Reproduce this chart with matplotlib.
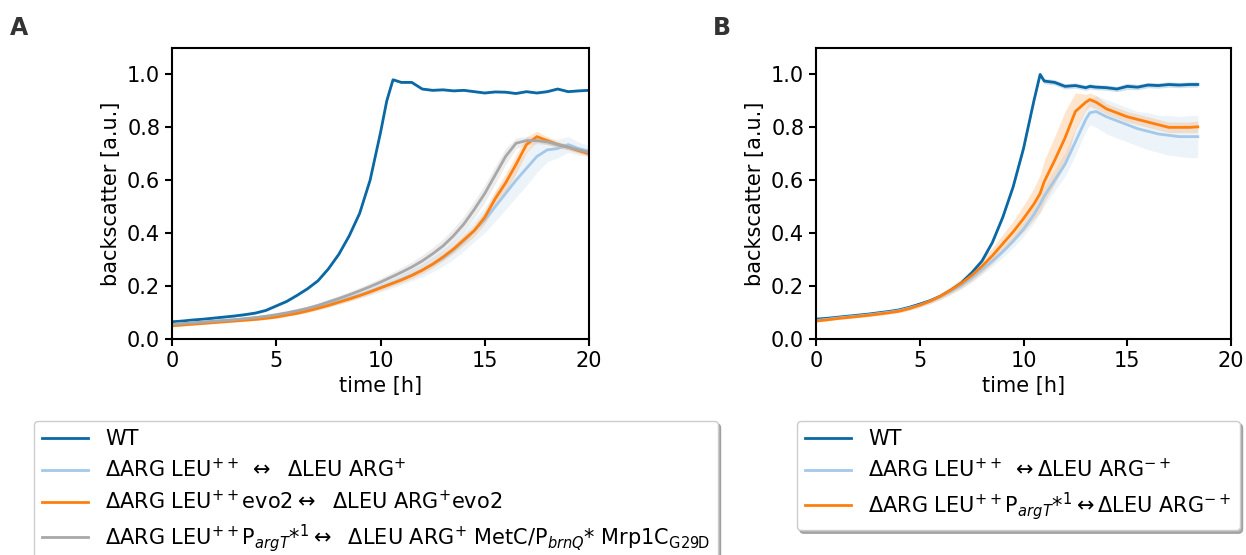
"""growth curves, backscatter, two panels"""

import numpy as np
import matplotlib.pyplot as plt

#%% panel A data
t_a = [0, 0.5, 1, 1.5, 2, 2.5, 3, 3.5, 4, 4.5, 5, 5.5, 6, 6.5, 7, 7.5, 8, 8.5, 9, 9.5,
       10, 10.3, 10.6, 11, 11.5, 12, 12.5, 13, 13.5, 14, 14.5, 15, 15.5, 16, 16.5, 17,
       17.5, 18, 18.5, 19, 19.5, 20]
wt_a = [0.065, 0.068, 0.072, 0.075, 0.079, 0.083, 0.087, 0.092, 0.098, 0.108, 0.125,
        0.142, 0.165, 0.19, 0.22, 0.265, 0.32, 0.39, 0.475, 0.6, 0.78, 0.9, 0.98, 0.97,
        0.97, 0.945, 0.94, 0.942, 0.938, 0.94, 0.935, 0.93, 0.934, 0.933, 0.928, 0.935,
        0.93, 0.935, 0.945, 0.935, 0.938, 0.94]
lb_a = [0.055, 0.058, 0.061, 0.064, 0.067, 0.07, 0.073, 0.076, 0.08, 0.084, 0.088,
        0.094, 0.1, 0.11, 0.12, 0.13, 0.142, 0.154, 0.166, 0.18, 0.195, 0.203, 0.212,
        0.225, 0.242, 0.26, 0.282, 0.305, 0.335, 0.37, 0.41, 0.45, 0.5, 0.55, 0.6, 0.645,
        0.69, 0.715, 0.72, 0.735, 0.72, 0.71]
lb_a_sd = [0.005, 0.005, 0.005, 0.005, 0.005, 0.005, 0.005, 0.005, 0.005, 0.005, 0.006,
           0.006, 0.007, 0.008, 0.009, 0.01, 0.011, 0.012, 0.013, 0.014, 0.016, 0.017,
           0.018, 0.02, 0.022, 0.025, 0.028, 0.03, 0.033, 0.037, 0.042, 0.048, 0.055,
           0.06, 0.065, 0.065, 0.06, 0.045, 0.035, 0.03, 0.025, 0.02]
or_a = [0.05, 0.053, 0.056, 0.059, 0.062, 0.065, 0.068, 0.071, 0.074, 0.078, 0.083,
        0.09, 0.097, 0.106, 0.116, 0.127, 0.139, 0.151, 0.164, 0.178, 0.193, 0.202, 0.211,
        0.223, 0.24, 0.26, 0.283, 0.31, 0.34, 0.375, 0.41, 0.46, 0.53, 0.59, 0.66, 0.735,
        0.765, 0.75, 0.735, 0.725, 0.712, 0.70]
or_a_sd = [0.004, 0.004, 0.004, 0.004, 0.004, 0.004, 0.004, 0.004, 0.004, 0.004, 0.005,
           0.005, 0.005, 0.006, 0.006, 0.007, 0.007, 0.008, 0.008, 0.009, 0.01, 0.01,
           0.01, 0.011, 0.012, 0.013, 0.014, 0.015, 0.017, 0.02, 0.022, 0.025, 0.03,
           0.035, 0.035, 0.03, 0.02, 0.015, 0.012, 0.01, 0.01, 0.01]
gr_a = [0.055, 0.058, 0.061, 0.064, 0.067, 0.07, 0.073, 0.077, 0.081, 0.086, 0.092,
        0.099, 0.107, 0.116, 0.127, 0.14, 0.153, 0.167, 0.182, 0.198, 0.215, 0.226,
        0.237, 0.252, 0.272, 0.295, 0.322, 0.352, 0.39, 0.435, 0.49, 0.55, 0.62, 0.69,
        0.74, 0.75, 0.75, 0.745, 0.735, 0.725, 0.715, 0.705]
gr_a_sd = [0.006, 0.006, 0.006, 0.006, 0.006, 0.006, 0.006, 0.006, 0.006, 0.006, 0.007,
           0.007, 0.008, 0.008, 0.009, 0.01, 0.011, 0.012, 0.013, 0.014, 0.015, 0.016,
           0.017, 0.018, 0.02, 0.022, 0.024, 0.026, 0.028, 0.03, 0.032, 0.033, 0.033,
           0.03, 0.02, 0.015, 0.012, 0.01, 0.01, 0.01, 0.01, 0.01]

#%% panel B data
t_b = [0, 0.5, 1, 1.5, 2, 2.5, 3, 3.5, 4, 4.5, 5, 5.5, 6, 6.5, 7, 7.5, 8, 8.5, 9, 9.5,
       10, 10.5, 10.8, 11, 11.5, 12, 12.5, 13, 13.2, 13.5, 14, 14.5, 15, 15.5, 16, 16.5,
       17, 17.5, 18, 18.4]
wt_b = [0.075, 0.078, 0.082, 0.086, 0.09, 0.094, 0.099, 0.104, 0.11, 0.12, 0.132,
        0.145, 0.162, 0.185, 0.212, 0.25, 0.295, 0.365, 0.46, 0.575, 0.72, 0.9, 1.0,
        0.975, 0.97, 0.955, 0.958, 0.95, 0.955, 0.952, 0.95, 0.945, 0.955, 0.952, 0.96,
        0.958, 0.962, 0.96, 0.962, 0.962]
wt_b_sd = [0.003, 0.003, 0.003, 0.003, 0.003, 0.003, 0.003, 0.003, 0.003, 0.003, 0.004,
           0.004, 0.004, 0.005, 0.005, 0.006, 0.006, 0.007, 0.008, 0.009, 0.01, 0.01,
           0.01, 0.01, 0.01, 0.01, 0.01, 0.01, 0.01, 0.01, 0.01, 0.01, 0.012, 0.01, 0.01,
           0.01, 0.01, 0.01, 0.01, 0.01]
lb_b = [0.07, 0.074, 0.079, 0.083, 0.087, 0.091, 0.096, 0.101, 0.107, 0.117, 0.128,
        0.142, 0.16, 0.18, 0.202, 0.23, 0.262, 0.295, 0.33, 0.37, 0.415, 0.47, 0.51, 0.54,
        0.6, 0.66, 0.745, 0.83, 0.855, 0.86, 0.84, 0.825, 0.81, 0.795, 0.785, 0.775, 0.77,
        0.765, 0.765, 0.765]
lb_b_sd = [0.004, 0.004, 0.004, 0.004, 0.004, 0.004, 0.005, 0.005, 0.005, 0.006, 0.007,
           0.008, 0.01, 0.012, 0.014, 0.016, 0.018, 0.02, 0.022, 0.025, 0.028, 0.032,
           0.035, 0.037, 0.04, 0.045, 0.05, 0.045, 0.045, 0.06, 0.065, 0.065, 0.065,
           0.065, 0.07, 0.07, 0.075, 0.075, 0.08, 0.08]
or_b = [0.068, 0.072, 0.077, 0.081, 0.085, 0.089, 0.094, 0.099, 0.105, 0.115, 0.128,
        0.143, 0.162, 0.185, 0.21, 0.24, 0.275, 0.315, 0.36, 0.405, 0.455, 0.51, 0.55,
        0.595, 0.675, 0.76, 0.86, 0.895, 0.905, 0.895, 0.87, 0.855, 0.84, 0.83, 0.82,
        0.81, 0.8, 0.8, 0.8, 0.802]
or_b_sd = [0.004, 0.004, 0.004, 0.004, 0.004, 0.004, 0.005, 0.005, 0.006, 0.007, 0.008,
           0.01, 0.012, 0.015, 0.018, 0.022, 0.026, 0.03, 0.035, 0.04, 0.05, 0.06, 0.07,
           0.08, 0.09, 0.1, 0.07, 0.03, 0.025, 0.025, 0.02, 0.02, 0.02, 0.02, 0.02, 0.02,
           0.02, 0.02, 0.02, 0.022]

#%% legend labels
labels_a = ['WT',
            r'$\Delta$ARG LEU$^{++}$ $\leftrightarrow$  $\Delta$LEU ARG$^{+}$',
            r'$\Delta$ARG LEU$^{++}$evo2$\leftrightarrow$  $\Delta$LEU ARG$^{+}$evo2',
            r'$\Delta$ARG LEU$^{++}$P$_{argT}$*$^{1}$$\leftrightarrow$  $\Delta$LEU ARG$^{+}$ '
            r'MetC/P$_{brnQ}$* Mrp1C$_{\mathrm{G29D}}$']
labels_b = ['WT',
            r'$\Delta$ARG LEU$^{++}$ $\leftrightarrow\Delta$LEU ARG$^{-+}$',
            r'$\Delta$ARG LEU$^{++}$P$_{argT}$*$^{1}\leftrightarrow\Delta$LEU ARG$^{-+}$']

c_wt = '#0a68a4'
c_lb = '#a4c8ea'
c_or = '#ff7f0e'
c_gr = '#a8a8a8'

plt.rcParams['font.size'] = 15
fig = plt.figure(figsize=(12.46, 5.55), dpi=100)
ax_a = fig.add_axes([172/1246, 1-339/555, 417/1246, 291/555])
ax_b = fig.add_axes([816/1246, 1-339/555, 415/1246, 291/555])


def band(ax, t, y, sd, col, lab):
    t = np.array(t)
    y = np.array(y)
    sd = np.array(sd)
    ax.fill_between(t, y - sd, y + sd, color=col, alpha=0.2, lw=0)
    line, = ax.plot(t, y, color=col, lw=2, label=lab)
    return line


# panel A
band(ax_a, t_a, wt_a, np.full(len(t_a), 0.004), c_wt, labels_a[0])
band(ax_a, t_a, lb_a, lb_a_sd, c_lb, labels_a[1])
band(ax_a, t_a, or_a, or_a_sd, c_or, labels_a[2])
band(ax_a, t_a, gr_a, gr_a_sd, c_gr, labels_a[3])

# panel B
band(ax_b, t_b, wt_b, wt_b_sd, c_wt, labels_b[0])
band(ax_b, t_b, lb_b, lb_b_sd, c_lb, labels_b[1])
band(ax_b, t_b, or_b, or_b_sd, c_or, labels_b[2])

for ax in [ax_a, ax_b]:
    ax.set_xlim(0, 20)
    ax.set_ylim(0, 1.1)
    ax.set_xticks([0, 5, 10, 15, 20])
    ax.set_yticks([0, 0.2, 0.4, 0.6, 0.8, 1.0])
    ax.set_xlabel('time [h]')
    ax.set_ylabel('backscatter [a.u.]')
    for s in ax.spines.values():
        s.set_linewidth(1.5)
    ax.tick_params(width=1.5, length=5)

shadow_kw = {'color': '0.55', 'alpha': 0.7}
ax_a.legend(loc='upper left', bbox_to_anchor=(34/1246, 1-421/555), bbox_transform=fig.transFigure,
            borderaxespad=0, shadow=shadow_kw, fontsize=15, handlelength=2.2, labelspacing=0.42)
ax_b.legend(loc='upper left', bbox_to_anchor=(797/1246, 1-421/555), bbox_transform=fig.transFigure,
            borderaxespad=0, shadow=shadow_kw, fontsize=15, handlelength=2.2, labelspacing=0.42)

fig.text(10/1246, 1-28/555, 'A', fontsize=17, fontweight='bold', color='#333333', va='center')
fig.text(713/1246, 1-28/555, 'B', fontsize=17, fontweight='bold', color='#333333', va='center')

plt.savefig('out.png', dpi=100)
